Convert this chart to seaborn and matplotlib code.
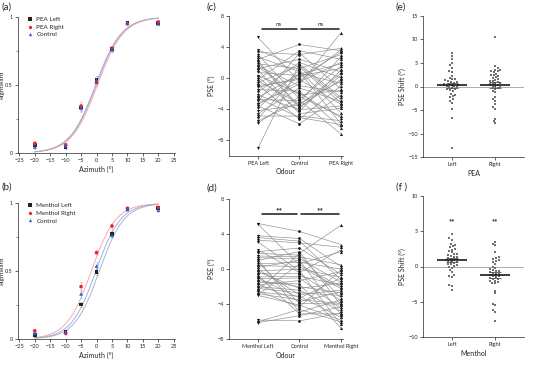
import numpy as np
import pandas as pd
import matplotlib
matplotlib.use('Agg')
import matplotlib.pyplot as plt
import seaborn as sns

sns.set_theme(style='ticks')
plt.rcParams['font.family'] = ['Lato', 'DejaVu Sans']
plt.rcParams.update({
    'axes.linewidth': 0.5, 'xtick.major.width': 0.5, 'ytick.major.width': 0.5,
    'xtick.major.size': 2, 'ytick.major.size': 2,
    'xtick.labelsize': 4, 'ytick.labelsize': 4, 'axes.labelsize': 5,
    'xtick.major.pad': 1.5, 'ytick.major.pad': 1.5, 'axes.labelpad': 2,
})

# ---- psychometric data (a, b) ----
azimuth = [-20, -10, -5, 0, 5, 10, 20]
pea_left = [0.057, 0.044, 0.335, 0.54, 0.764, 0.96, 0.955]
pea_right = [0.07, 0.06, 0.345, 0.517, 0.77, 0.95, 0.963]
pea_ctrl = [0.044, 0.054, 0.33, 0.537, 0.76, 0.96, 0.95]
pea_left_err = [0.015, 0.012, 0.025, 0.025, 0.02, 0.012, 0.012]
pea_right_err = [0.015, 0.012, 0.03, 0.025, 0.02, 0.012, 0.012]
pea_ctrl_err = [0.012, 0.012, 0.025, 0.03, 0.02, 0.012, 0.012]

menthol_left = [0.03, 0.054, 0.255, 0.496, 0.774, 0.956, 0.963]
menthol_right = [0.06, 0.042, 0.386, 0.636, 0.833, 0.963, 0.97]
menthol_ctrl = [0.042, 0.054, 0.332, 0.538, 0.764, 0.956, 0.95]
menthol_left_err = [0.012, 0.012, 0.02, 0.025, 0.02, 0.012, 0.012]
menthol_right_err = [0.015, 0.012, 0.035, 0.02, 0.02, 0.012, 0.012]
menthol_ctrl_err = [0.012, 0.012, 0.03, 0.03, 0.02, 0.012, 0.012]

# logistic fit parameters (PSE, spread)
pea_fit = {'Left': (-0.3, 4.2), 'Right': (0.3, 4.2), 'Control': (-0.1, 4.2)}
menthol_fit = {'Left': (0.9, 4.0), 'Right': (-1.7, 4.0), 'Control': (-0.2, 4.0)}

# ---- individual PSE (c, d) ----
pea_pse_left = [5.2, 3.6, 3.3, 3.0, 2.7, 2.4, 2.0, 1.8, 1.5, 1.2, 1.0, 0.7, 0.3, -0.2, -0.4,
                -0.6, -0.9, -1.2, -1.5, -1.8, -2.2, -2.5, -2.8, -3.0, -3.3, -3.6, -3.9, -4.2,
                -4.6, -4.9, -5.2, -5.5, -5.8, -9.0, 0.1, -1.0, 2.2, -2.6, -3.4, 1.4]
pea_pse_ctrl = [-0.5, 1.4, 3.0, -2.7, 0.8, 4.3, -3.9, 1.2, -1.0, 2.4, -4.6, 0.3, -2.0, 3.5, -3.3,
                1.6, -5.3, 0.0, -1.7, 2.0, -4.1, 0.5, -2.9, 3.2, -0.8, -5.9, 1.0, -3.5,
                -1.3, -4.9, 0.6, -3.1, -2.4, 1.8, -4.3, -0.2, -3.7, -5.1, -0.4, -2.2]
pea_pse_right = [2.0, -3.2, 3.8, 1.5, -5.9, 3.5, 0.3, 3.0, -1.8, 0.8, -3.9, 1.2, -5.1, 2.4, -0.4,
                 -2.8, -1.0, 3.3, -6.4, 0.0, -3.6, 1.8, -7.2, -1.4, 5.8, -2.2, -4.5, 0.6,
                 -3.0, -5.5, -0.7, 2.7, -4.9, -2.5, 1.0, -3.4, -0.2, -6.0, 3.6, -1.6]

menthol_pse_left = [5.2, 5.1, 3.8, 3.6, 3.3, 3.1, 2.0, 1.8, 1.5, 1.3, 1.0, 0.6, 0.4, 0.2, -0.2,
                    -0.5, -0.9, -1.1, -1.3, -1.5, -1.8, -2.0, -2.2, -2.4, -2.6, -2.8, -3.0, -5.8,
                    -6.0, -6.1, 0.0, -1.0, -1.7, 0.8, -2.5, 1.1, -0.7, -2.9, 2.2, -0.3]
menthol_pse_ctrl = [4.3, 0.5, 3.5, 3.2, 3.0, -0.2, 2.4, 1.6, 1.4, 1.2, 2.0, 0.8, 0.3, 1.0, 0.0,
                    -0.5, -0.8, -1.0, -2.0, -1.7, -1.3, -2.4, -2.7, 1.8, -3.1, -3.5, -4.1, -5.9,
                    -4.6, -5.3, -2.9, -3.3, -3.7, -3.9, -4.3, -4.9, -5.1, 0.6, -0.4, -2.2]
menthol_pse_right = [2.8, -2.0, 0.3, -1.2, 2.5, -6.3, -0.6, -3.3, 0.5, -1.5, -4.1, 0.0, -2.2, -5.2, -0.9,
                     -3.6, -1.8, -4.5, -2.7, -6.7, -0.3, -4.8, -3.0, 5.0, -5.5, -3.9, -5.8, -5.0,
                     -6.0, -4.3, -2.4, -1.0, -2.6, -4.0, -0.1, -3.5, -5.1, 2.0, 2.2, -1.6]

# ---- PSE shift (e, f) ----
pea_shift_left = [7.2, 6.5, 5.8, 5.0, 4.5, 4.0, 3.2, 3.0, 2.2, 1.8, 1.6, 1.5, 1.2, 1.0, 0.8, 0.6,
                  0.4, 0.3, 0.2, 0.1, 0.0, -0.2, -0.3, -0.5, -0.8, -1.0, -1.5, -2.0, -2.3, -2.6,
                  -3.0, -3.5, -4.8, -6.7, -13.0, 0.5, -0.6, 1.3, -1.8, 0.9]
pea_shift_right = [10.4, 4.3, 3.9, 3.6, 3.4, 3.3, 3.0, 2.7, 2.4, 2.0, 1.6, 1.2, 1.0, 0.8, 0.6, 0.4,
                   0.2, 0.0, -0.2, -0.4, 0.7, 1.8, 3.2, 2.5, 1.1, -2.2, -2.6, -3.0, -0.9, -3.8,
                   -4.3, -4.7, -6.8, -7.3, -7.8, 0.5, -0.5, 1.4, 2.2, -1.2]
menthol_shift_left = [4.6, 4.0, 3.8, 3.0, 2.9, 2.7, 2.5, 2.2, 2.0, 1.8, 1.6, 1.5, 1.3, 1.2, 1.1, 1.0,
                      0.9, 0.8, 0.7, 0.6, 0.5, 0.4, 0.3, 0.2, 0.0, -0.2, -0.5, -1.2, -1.3, -1.5,
                      -2.6, -2.8, -3.3, 3.2, 2.4, 1.4, 0.9, 1.7, -0.8, 0.1]
menthol_shift_right = [3.5, 3.2, 3.0, 2.0, 1.3, 1.2, 0.8, 0.6, 0.3, 0.0, -0.2, -0.4, -0.6, -0.8, -0.9,
                       -1.0, -1.2, -1.3, -1.4, -1.6, -1.8, -2.0, -2.2, -2.3, -2.4, -1.5, -1.1, -0.7,
                       -3.4, -3.8, -5.3, -5.5, -6.1, -6.4, -7.7, -0.5, 0.9, -1.7, -2.1, 1.0]

C_BLACK, C_RED, C_BLUE = '#222222', '#e8272b', '#2b5fd9'
CURVE = {'Left': '#a8a8c0', 'Right': '#f2a0a0', 'Control': '#92a8ec'}
ERR = {'Left': '#999999', 'Right': '#f5a5a5', 'Control': '#a5b8f0'}
W, H = 553, 367

fig = plt.figure(figsize=(W / 100, H / 100), dpi=100)


def px_axes(x0, y0, x1, y1):
    return fig.add_axes([x0 / W, 1 - y1 / H, (x1 - x0) / W, (y1 - y0) / H])


def psychometric(ax, left, right, ctrl, errs, fits, names):
    xs = np.linspace(-20, 20, 200)
    for key in ['Control', 'Right', 'Left']:
        mu, s = fits[key]
        ax.plot(xs, 1 / (1 + np.exp(-(xs - mu) / s)), color=CURVE[key], lw=0.6, zorder=1)
    df = pd.DataFrame({'az': azimuth * 3, 'p': left + right + ctrl,
                       'cond': [names[0]] * 7 + [names[1]] * 7 + [names[2]] * 7})
    for vals, err, key in zip([left, right, ctrl], errs, ['Left', 'Right', 'Control']):
        ax.errorbar(azimuth, vals, yerr=err, fmt='none', ecolor=ERR[key], elinewidth=0.5,
                    capsize=1, capthick=0.5, zorder=2)
    sns.scatterplot(data=df, x='az', y='p', hue='cond', style='cond',
                    palette=dict(zip(names, [C_BLACK, C_RED, C_BLUE])),
                    markers=dict(zip(names, ['s', 'o', '^'])), s=7, linewidth=0,
                    ax=ax, zorder=3, clip_on=False)
    ax.legend(loc='upper left', bbox_to_anchor=(0.02, 1.02), frameon=False, fontsize=4.5,
              handletextpad=0.1, borderaxespad=0, labelspacing=0.35, markerscale=0.9)
    ax.set_xlim(-25.5, 25.4)
    ax.set_ylim(0, 1)
    ax.set_xticks(range(-25, 30, 5))
    ax.set_yticks([0, 0.5, 1])
    ax.set_yticklabels(['0', '0.5', '1'])
    ax.set_yticks([0.25, 0.75], minor=True)
    ax.tick_params(which='minor', length=1.2, width=0.4)
    ax.set_xlabel('Azimuth (°)')
    ax.set_ylabel('Rightward', fontsize=4.5)
    ax.yaxis.set_label_coords(-0.083, 0.5)
    sns.despine(ax=ax)


def paired(ax, left, ctrl, right, labels, ylim, sig):
    n = len(ctrl)
    long = pd.DataFrame({'pos': [0] * n + [1] * n + [2] * n,
                         'pse': left + ctrl + right,
                         'subject': list(range(n)) * 3})
    sns.lineplot(data=long, x='pos', y='pse', units='subject', estimator=None,
                 color='#8c8c8c', lw=0.45, ax=ax, legend=False)
    ax.scatter([0] * n, left, marker='v', s=5, color='k', lw=0, zorder=3, clip_on=False)
    ax.scatter([1] * n, ctrl, marker='o', s=4, color='k', lw=0, zorder=3, clip_on=False)
    ax.scatter([2] * n, right, marker='^', s=5, color='k', lw=0, zorder=3, clip_on=False)
    ax.set_xlim(-0.7, 2.05)
    ax.set_ylim(*ylim)
    ax.set_yticks([-8, -4, 0, 4, 8])
    ax.set_xticks([0, 1, 2])
    ax.set_xticklabels(labels)
    ax.set_xlabel('Odour')
    ax.set_ylabel('PSE (°)')
    for x0, x1, xt in [(0.09, 0.93, 0.5), (1.04, 1.95, 1.5)]:
        ax.plot([x0, x1], [6.25, 6.25], color='k', lw=1.1)
        if sig == 'ns':
            ax.text(xt, 6.6, sig, ha='center', va='bottom', fontsize=4.5)
        else:
            ax.text(xt, 6.3, sig, ha='center', va='bottom', fontsize=6, fontweight='bold')
    sns.despine(ax=ax)


def shifts(ax, left, right, xlabel, ylim, yticks, stars=False):
    df = pd.DataFrame({'side': ['Left'] * len(left) + ['Right'] * len(right),
                       'shift': left + right})
    ax.axhline(0, color='#a0a0a0', lw=0.6, zorder=0)
    sns.swarmplot(data=df, x='side', y='shift', color='#707070', size=2.0, marker='s',
                  linewidth=0, ax=ax, zorder=2)
    for i, vals in enumerate([left, right]):
        v = np.array(vals)
        m, se = v.mean(), v.std(ddof=1) / np.sqrt(len(v))
        ax.errorbar(i, m, yerr=se, fmt='none', ecolor='#555555', elinewidth=0.6,
                    capsize=4, capthick=0.6, zorder=3)
        ax.hlines(m, i - 0.34, i + 0.34, color='k', lw=1.2, zorder=4)
        if stars:
            ax.text(i, 6.3, '**', ha='center', va='center', fontsize=5.5, fontweight='bold')
    ax.set_xlim(-0.67, 1.67)
    ax.set_ylim(*ylim)
    ax.set_yticks(yticks)
    ax.set_xlabel(xlabel)
    ax.set_ylabel('PSE Shift (°)')
    sns.despine(ax=ax)


ax_a = px_axes(17.7, 17, 175, 153)
psychometric(ax_a, pea_left, pea_right, pea_ctrl,
             [pea_left_err, pea_right_err, pea_ctrl_err], pea_fit,
             ['PEA Left', 'PEA Right', 'Control'])
ax_b = px_axes(17.7, 203.3, 175, 339)
psychometric(ax_b, menthol_left, menthol_right, menthol_ctrl,
             [menthol_left_err, menthol_right_err, menthol_ctrl_err], menthol_fit,
             ['Menthol Left', 'Menthol Right', 'Control'])

ax_c = px_axes(229, 15.7, 343, 155.7)
paired(ax_c, pea_pse_left, pea_pse_ctrl, pea_pse_right,
       ['PEA Left', 'Control', 'PEA Right'], (-10, 8), 'ns')
ax_d = px_axes(229, 199, 343, 339.3)
paired(ax_d, menthol_pse_left, menthol_pse_ctrl, menthol_pse_right,
       ['Menthol Left', 'Control', 'Menthol Right'], (-8, 8), '**')

ax_e = px_axes(423, 15.7, 524, 157.3)
shifts(ax_e, pea_shift_left, pea_shift_right, 'PEA', (-15, 15), range(-15, 20, 5))
ax_f = px_axes(423, 195.7, 524, 337.3)
shifts(ax_f, menthol_shift_left, menthol_shift_right, 'Menthol', (-10, 10), range(-10, 15, 5),
       stars=True)

for lab, x, y in [('(a)', 1, 7), ('(b)', 1, 187), ('(c)', 206, 7), ('(d)', 206, 188),
                  ('(e)', 396, 7), ('(f )', 396, 187)]:
    fig.text(x / W, 1 - y / H, lab, fontsize=7, va='center', ha='left')

fig.savefig('out.png', dpi=100)
